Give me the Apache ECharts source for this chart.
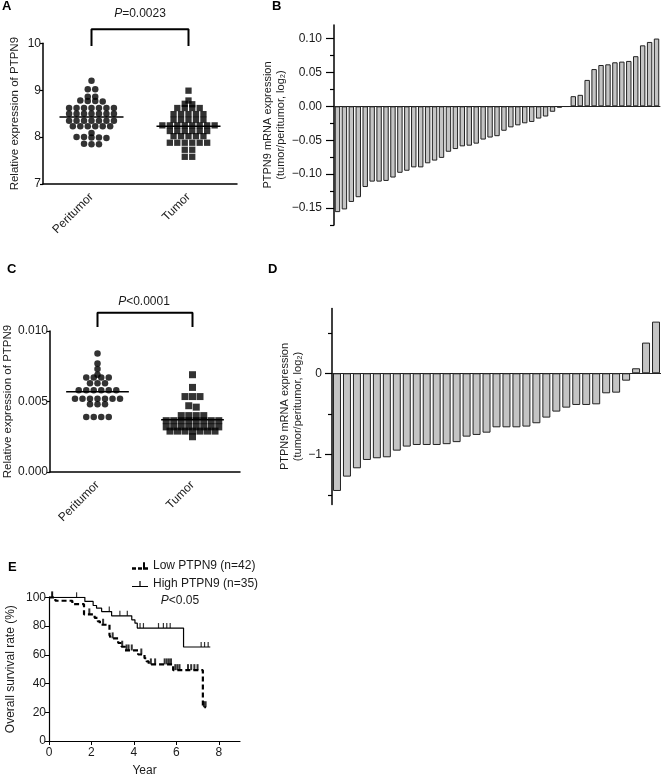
<!DOCTYPE html>
<html><head><meta charset="utf-8">
<script src="https://cdn.jsdelivr.net/npm/echarts@6/dist/echarts.min.js"></script>
<style>html,body{margin:0;padding:0;background:#fff}#c{width:661px;height:778px}</style>
</head><body><div id="c"></div>
<script>
// ---------- data ----------
const groups = ['Peritumor', 'Tumor'];

// Panel A (relative expression)
const aPeritumor = [9.20, 9.02, 9.02, 8.86, 8.86, 8.78, 8.77, 8.77, 8.76,
  8.62, 8.62, 8.62, 8.62, 8.62, 8.62, 8.62,
  8.50, 8.50, 8.50, 8.50, 8.50, 8.50, 8.50,
  8.35, 8.35, 8.35, 8.35, 8.35, 8.35, 8.35,
  8.23, 8.23, 8.23, 8.23, 8.23, 8.23,
  8.09, 8.00, 8.00, 7.99, 7.99, 7.98, 7.86, 7.85, 7.85];
const aTumor = [8.99, 8.78, 8.71, 8.70, 8.62, 8.62, 8.62, 8.62,
  8.49, 8.49, 8.49, 8.49, 8.49, 8.37, 8.37, 8.37, 8.37, 8.37,
  8.25, 8.25, 8.25, 8.25, 8.25, 8.25, 8.25, 8.25,
  8.13, 8.13, 8.13, 8.13, 8.13, 8.13, 8.02, 8.02, 8.02, 8.02, 8.02,
  7.88, 7.88, 7.88, 7.88, 7.88, 7.88, 7.73, 7.73, 7.58, 7.58];
const aMeans = [8.43, 8.23];
const aTicks = [7, 8, 9, 10];

// Panel B (log2 tumor/peritumor)
const bValues = [-0.156, -0.152, -0.141, -0.134, -0.119, -0.111, -0.111, -0.110, -0.105, -0.098,
  -0.095, -0.090, -0.090, -0.084, -0.080, -0.076, -0.067, -0.063, -0.059, -0.058,
  -0.055, -0.049, -0.046, -0.044, -0.036, -0.031, -0.028, -0.025, -0.023, -0.018,
  -0.015, -0.008, -0.002, -0.0005, 0.015, 0.017, 0.039, 0.055, 0.061, 0.062,
  0.065, 0.066, 0.067, 0.074, 0.090, 0.095, 0.100];
const bTicks = [-0.15, -0.10, -0.05, 0, 0.05, 0.10];
const bMinorTicks = [-0.175, -0.125, -0.075, -0.025, 0.025, 0.075];

// Panel C (qPCR relative expression)
const cPeritumor = [0.0084, 0.0077, 0.0073, 0.0069, 0.0067, 0.0067, 0.0067, 0.0067,
  0.0063, 0.0063, 0.0063, 0.0058, 0.0058, 0.0058, 0.0058, 0.0058, 0.0058,
  0.0052, 0.0052, 0.0052, 0.0052, 0.0052, 0.0052, 0.0052,
  0.0048, 0.0048, 0.0048, 0.0039, 0.0039, 0.0039, 0.0039];
const cTumor = [0.0069, 0.0060, 0.00535, 0.00535, 0.00535, 0.0047, 0.0046,
  0.0040, 0.0040, 0.0040, 0.0040,
  0.00364, 0.00364, 0.00364, 0.00364, 0.00364, 0.00364, 0.00364, 0.00364,
  0.0032, 0.0032, 0.0032, 0.0032, 0.0032, 0.0032, 0.0032, 0.0032,
  0.0029, 0.0029, 0.0029, 0.0029, 0.0029, 0.0029, 0.0029, 0.0025];
const cMeans = [0.0057, 0.0037];
const cTicks = [0, 0.005, 0.010];

// Panel D (log2 tumor/peritumor)
const dValues = [-1.453, -1.276, -1.173, -1.070, -1.049, -1.037, -0.955, -0.905, -0.885, -0.885,
  -0.885, -0.875, -0.850, -0.782, -0.761, -0.733, -0.667, -0.667, -0.667, -0.658,
  -0.617, -0.547, -0.473, -0.424, -0.391, -0.391, -0.383, -0.247, -0.239, -0.091,
  0.062, 0.379, 0.638];
const dTicks = [-1, 0];
const dMinorTicks = [-1.5, -0.5, 0.5];

// Panel E (Kaplan-Meier)
const eLowTimes = [0, 0.3, 1.1, 1.65, 2.15, 2.3, 2.4, 2.85, 2.92, 3.26, 3.42, 3.58, 4.2, 4.5, 4.6, 4.7, 5.85, 7.25, 7.4];
const eLowSurv  = [100, 97.6, 95.2, 88.1, 85.7, 83.3, 80.9, 73.8, 71.4, 68.2, 65.6, 63.0, 60.2, 57.6, 55.4, 53.3, 49.3, 23.5, 23.5];
const eLowCensor = [0.15, 1.9, 2.55, 3.0, 3.45, 3.65, 3.75, 3.9, 4.35, 4.8, 5.0, 5.45, 5.55, 5.65, 5.75,
  5.95, 6.05, 6.15, 6.55, 6.7, 6.85, 7.0, 7.3, 7.38];
const eHighTimes = [0, 1.69, 2.08, 2.24, 2.48, 2.95, 3.9, 4.05, 4.16, 6.34, 7.6];
const eHighSurv  = [100, 97.1, 94.3, 92.4, 90.1, 87.1, 84.3, 82.0, 78.6, 65.4, 65.4];
const eHighCensor = [0.15, 1.3, 2.84, 3.34, 3.69, 4.29, 4.45, 5.16, 5.39, 5.55, 5.71, 7.17, 7.33, 7.5];
const eXTicks = [0, 2, 4, 6, 8];
const eLegend = ['Low PTPN9 (n=42)', 'High PTPN9 (n=35)'];

// ---------- helpers ----------
const FONT = "'Liberation Sans', Arial, Helvetica, sans-serif";
const TXT = '#1a1a1a';

function swarm(values, center, tol, slot) {
  const sorted = values.slice().sort((a, b) => b - a);
  const rows = [];
  sorted.forEach(v => {
    const last = rows[rows.length - 1];
    if (last && Math.abs(last[0] - v) <= tol) last.push(v); else rows.push([v]);
  });
  const pts = [];
  rows.forEach(r => {
    const n = r.length;
    r.forEach((v, i) => pts.push([center + (i - (n - 1) / 2) * slot, v]));
  });
  return pts;
}
function survAt(times, surv, t) {
  let s = surv[0];
  for (let i = 0; i < times.length; i++) if (times[i] <= t) s = surv[i];
  return s;
}
const fmtMinus = (v, d) => (v < 0 ? '\u2212' : '') + Math.abs(v).toFixed(d);

function catAxis(gridIndex) {
  return {
    type: 'category', gridIndex, data: groups,
    axisLine: { lineStyle: { color: '#000', width: 1.5 } },
    axisTick: { alignWithLabel: true, length: 4, lineStyle: { color: '#000', width: 1.2 } },
    axisLabel: { rotate: 45, margin: 11, fontSize: 12, color: TXT, fontFamily: FONT }
  };
}
function hiddenX(gridIndex) {
  return { type: 'value', gridIndex, min: 0, max: 2, show: false };
}
function yName(name, gap, size) {
  return {
    name, nameLocation: 'middle', nameGap: gap, nameRotate: 90,
    nameTextStyle: { fontSize: size, color: TXT, fontFamily: FONT, lineHeight: 13 }
  };
}
function meanSeries(means, xIdx, yIdx) {
  return means.map((m, i) => ({
    type: 'line', xAxisIndex: xIdx, yAxisIndex: yIdx, symbol: 'none', z: 5,
    lineStyle: { color: '#000', width: 1.5 },
    data: [[i + 0.5 - 0.33, m], [i + 0.5 + 0.33, m]]
  }));
}
function bracket(xIdx, yIdx, low, high) {
  return {
    type: 'line', xAxisIndex: xIdx, yAxisIndex: yIdx, symbol: 'none', clip: false,
    lineStyle: { color: '#000', width: 2 },
    data: [[0.5, low], [0.5, high], [1.5, high], [1.5, low]]
  };
}

// ---------- option ----------
const option = {
  animation: false,
  textStyle: { fontFamily: FONT },
  grid: [
    { left: 43, top: 43.3, width: 194, height: 140.7 },   // A
    { left: 334, top: 25, width: 326, height: 200 },     // B
    { left: 50, top: 331, width: 190, height: 141 },     // C
    { left: 332, top: 308.5, width: 329, height: 196 },  // D
    { left: 49, top: 597.3, width: 191, height: 144.4 }  // E
  ],
  xAxis: [
    catAxis(0),
    hiddenX(0),
    { type: 'category', gridIndex: 1, data: bValues.map((_, i) => i + 1),
      axisLine: { onZero: true, lineStyle: { color: '#222', width: 1 } },
      axisTick: { show: false }, axisLabel: { show: false } },
    catAxis(2),
    hiddenX(2),
    { type: 'category', gridIndex: 3, data: dValues.map((_, i) => i + 1),
      axisLine: { onZero: true, lineStyle: { color: '#222', width: 1 } },
      axisTick: { show: false }, axisLabel: { show: false } },
    { type: 'value', gridIndex: 4, min: 0, max: 9,
      name: 'Year', nameLocation: 'middle', nameGap: 24,
      nameTextStyle: { fontSize: 12, color: TXT, fontFamily: FONT },
      splitLine: { show: false },
      axisLine: { lineStyle: { color: '#000', width: 1.2 } },
      axisTick: { customValues: eXTicks, length: 4, lineStyle: { color: '#000' } },
      axisLabel: { customValues: eXTicks, fontSize: 12, color: TXT, margin: 6 } }
  ],
  yAxis: [
    Object.assign({ type: 'value', gridIndex: 0, min: 7, max: 10, interval: 1,
      splitLine: { show: false },
      axisLine: { show: true, lineStyle: { color: '#000', width: 1.5 } },
      axisTick: { show: true, length: 3, lineStyle: { color: '#000', width: 1.2 } },
      axisLabel: { fontSize: 12, color: TXT, margin: 2 } },
      yName('Relative expression of PTPN9', 22, 11.5)),
    Object.assign({ type: 'value', gridIndex: 1, min: -0.175, max: 0.12, position: 'left',
      splitLine: { show: false },
      axisLine: { show: true, onZero: false, lineStyle: { color: '#000', width: 1.5 } },
      axisTick: { show: true, customValues: bTicks, length: 8, lineStyle: { color: '#000', width: 1.2 } },
      axisLabel: { customValues: bTicks, fontSize: 12, color: TXT, margin: 12,
        formatter: v => fmtMinus(v, 2) } },
      yName('PTPN9 mRNA expression\n(tumor/peritumor, log\u2082)', 46, 11)),
    { type: 'value', gridIndex: 1, min: -0.175, max: 0.12, position: 'left', offset: 0,
      splitLine: { show: false }, axisLine: { show: false }, axisLabel: { show: false },
      axisTick: { show: true, customValues: bMinorTicks, length: 4, lineStyle: { color: '#000', width: 1.2 } } },
    Object.assign({ type: 'value', gridIndex: 2, min: 0, max: 0.01, interval: 0.005,
      splitLine: { show: false },
      axisLine: { show: true, lineStyle: { color: '#000', width: 1.5 } },
      axisTick: { show: true, length: 3, lineStyle: { color: '#000', width: 1.2 } },
      axisLabel: { fontSize: 12, color: TXT, margin: 2, formatter: v => v.toFixed(3) } },
      yName('Relative expression of PTPN9', 36, 11.5)),
    Object.assign({ type: 'value', gridIndex: 3, min: -1.62, max: 0.8, position: 'left',
      splitLine: { show: false },
      axisLine: { show: true, onZero: false, lineStyle: { color: '#000', width: 1.5 } },
      axisTick: { show: true, customValues: dTicks, length: 7, lineStyle: { color: '#000', width: 1.2 } },
      axisLabel: { customValues: dTicks, fontSize: 12, color: TXT, margin: 10,
        formatter: v => fmtMinus(v, 0) } },
      yName('PTPN9 mRNA expression\n(tumor/peritumor, log\u2082)', 22, 11)),
    { type: 'value', gridIndex: 3, min: -1.62, max: 0.8, position: 'left', offset: 0,
      splitLine: { show: false }, axisLine: { show: false }, axisLabel: { show: false },
      axisTick: { show: true, customValues: dMinorTicks, length: 4, lineStyle: { color: '#000', width: 1.2 } } },
    Object.assign({ type: 'value', gridIndex: 4, min: 0, max: 100, interval: 20,
      splitLine: { show: false },
      axisLine: { show: true, lineStyle: { color: '#000', width: 1.2 } },
      axisTick: { show: true, length: 4, lineStyle: { color: '#000' } },
      axisLabel: { fontSize: 12, color: TXT, margin: 3 } },
      yName('Overall survival rate (%)', 32, 12))
  ],
  legend: {
    orient: 'vertical', left: 127, top: 555, itemWidth: 16, itemHeight: 8, itemGap: 6,
    selectedMode: false,
    textStyle: { fontSize: 12, color: TXT, fontFamily: FONT },
    data: [
      { name: eLegend[0], icon: 'path://M0,6h4v2.5h-4z M6,6h4v2.5h-4z M12,6h4v2.5h-4z M11,1h2v7.5h-2z' },
      { name: eLegend[1], icon: 'path://M0,7h16v1.2h-16z M7.4,2h1.2v6h-1.2z' }
    ]
  },
  series: [
    // A
    { type: 'scatter', xAxisIndex: 1, yAxisIndex: 0, symbol: 'circle', symbolSize: 6.5,
      itemStyle: { color: '#000' }, data: swarm(aPeritumor, 0.5, 0.05, 0.077) },
    { type: 'scatter', xAxisIndex: 1, yAxisIndex: 0, symbol: 'rect', symbolSize: 6.3,
      itemStyle: { color: '#000' }, data: swarm(aTumor, 1.5, 0.05, 0.077) },
    ...meanSeries(aMeans, 1, 0),
    bracket(1, 0, 9.945, 10.298),
    // B
    { type: 'bar', xAxisIndex: 2, yAxisIndex: 1, barCategoryGap: '22%', data: bValues,
      itemStyle: { color: '#c4c4c4', borderColor: '#222', borderWidth: 1 } },
    // C
    { type: 'scatter', xAxisIndex: 4, yAxisIndex: 3, symbol: 'circle', symbolSize: 6.5,
      itemStyle: { color: '#000' }, data: swarm(cPeritumor, 0.5, 0.00015, 0.079) },
    { type: 'scatter', xAxisIndex: 4, yAxisIndex: 3, symbol: 'rect', symbolSize: 7,
      itemStyle: { color: '#000' }, data: swarm(cTumor, 1.5, 0.00015, 0.079) },
    ...meanSeries(cMeans, 4, 3),
    bracket(4, 3, 0.010286, 0.011286),
    // D
    { type: 'bar', xAxisIndex: 5, yAxisIndex: 4, barCategoryGap: '20%', data: dValues,
      itemStyle: { color: '#c4c4c4', borderColor: '#222', borderWidth: 1 } },
    // E
    { name: eLegend[0], type: 'line', xAxisIndex: 6, yAxisIndex: 6, step: 'end', symbol: 'none',
      color: '#000', lineStyle: { color: '#000', width: 2.2, type: [5, 3] },
      data: eLowTimes.map((t, i) => [t, eLowSurv[i]]) },
    { name: eLegend[1], type: 'line', xAxisIndex: 6, yAxisIndex: 6, step: 'end', symbol: 'none',
      color: '#000', lineStyle: { color: '#000', width: 1.2 },
      data: eHighTimes.map((t, i) => [t, eHighSurv[i]]) },
    { type: 'scatter', xAxisIndex: 6, yAxisIndex: 6, symbol: 'rect', symbolSize: [2, 6],
      symbolOffset: [0, -3], itemStyle: { color: '#000' },
      data: eLowCensor.map(t => [t, survAt(eLowTimes, eLowSurv, t)]) },
    { type: 'scatter', xAxisIndex: 6, yAxisIndex: 6, symbol: 'rect', symbolSize: [1.2, 5],
      symbolOffset: [0, -2.5], itemStyle: { color: '#000' },
      data: eHighCensor.map(t => [t, survAt(eHighTimes, eHighSurv, t)]) }
  ],
  graphic: [
    { type: 'text', x: 2, y: 0, style: { text: 'A', font: 'bold 13px ' + FONT, fill: '#000' } },
    { type: 'text', x: 272, y: 0, style: { text: 'B', font: 'bold 13px ' + FONT, fill: '#000' } },
    { type: 'text', x: 7, y: 263, style: { text: 'C', font: 'bold 13px ' + FONT, fill: '#000' } },
    { type: 'text', x: 268, y: 263, style: { text: 'D', font: 'bold 13px ' + FONT, fill: '#000' } },
    { type: 'text', x: 8, y: 561, style: { text: 'E', font: 'bold 13px ' + FONT, fill: '#000' } },
    { type: 'text', x: 140, y: 14, style: { text: '{i|P}=0.0023', align: 'center', verticalAlign: 'middle',
      fontSize: 12, fontFamily: FONT, fill: TXT, rich: { i: { fontStyle: 'italic', fontSize: 12, fontFamily: FONT, fill: TXT } } } },
    { type: 'text', x: 144, y: 302, style: { text: '{i|P}<0.0001', align: 'center', verticalAlign: 'middle',
      fontSize: 12, fontFamily: FONT, fill: TXT, rich: { i: { fontStyle: 'italic', fontSize: 12, fontFamily: FONT, fill: TXT } } } },
    { type: 'text', x: 180, y: 601, style: { text: '{i|P}<0.05', align: 'center', verticalAlign: 'middle',
      fontSize: 12, fontFamily: FONT, fill: TXT, rich: { i: { fontStyle: 'italic', fontSize: 12, fontFamily: FONT, fill: TXT } } } }
  ]
};

const chart = echarts.init(document.getElementById('c'), null, { renderer: 'canvas' });
chart.setOption(option);
</script>
</body></html>
